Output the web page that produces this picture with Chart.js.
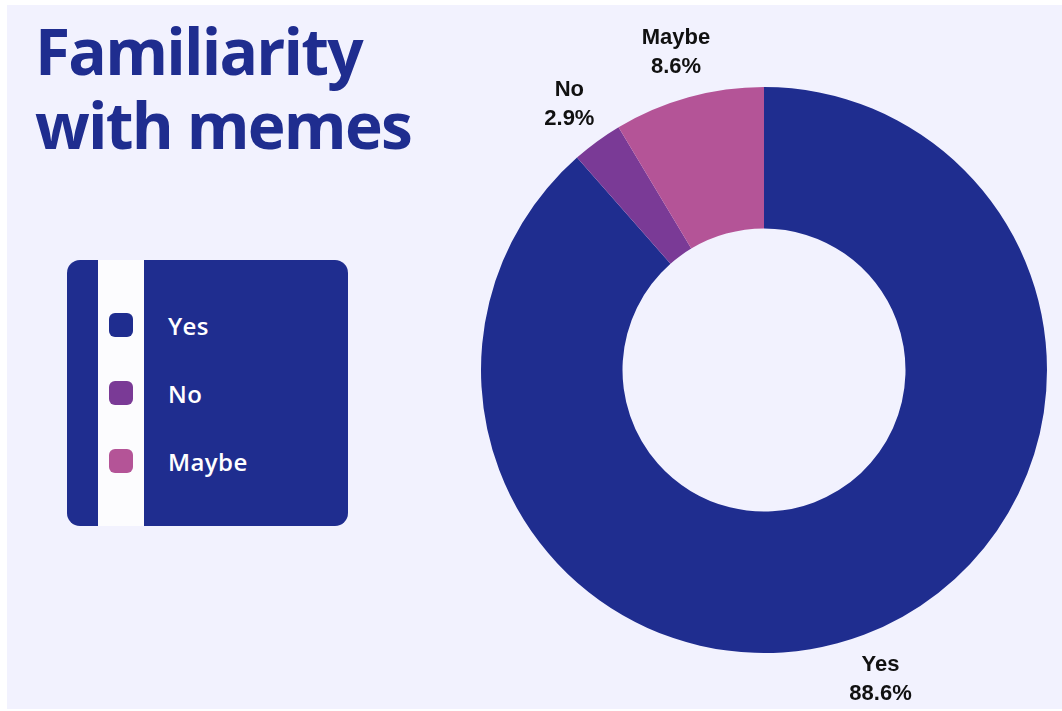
<!DOCTYPE html>
<html>
<head>
<meta charset="utf-8">
<title>Familiarity with memes</title>
<script src="https://cdn.jsdelivr.net/npm/chart.js@4"></script>
<style>
  html, body { margin: 0; padding: 0; background: #ffffff; }
  body { width: 1062px; height: 711px; position: relative; overflow: hidden; }
  .panel {
    position: absolute; left: 7px; top: 5px; width: 1055px; height: 704px;
    background: #f2f2fe;
  }
  #chartWrap { position: absolute; left: 0; top: 0; width: 1062px; height: 711px; }
  h1 {
    position: absolute; left: 35px; top: 14px; margin: 0;
    font-family: "Open Sans", sans-serif; font-weight: 700;
    font-size: 64px; line-height: 74px; letter-spacing: -1.8px;
    color: #1f2d8f;
  }
  .legend {
    position: absolute; left: 67px; top: 260px; width: 281px; height: 266px;
    background: #1f2d8f; border-radius: 13px; overflow: hidden;
  }
  .legend .stripe {
    position: absolute; left: 31px; top: 0; width: 46px; height: 100%;
    background: #fcfcfe;
  }
  .legend .item {
    position: absolute; left: 42px; height: 24px;
    display: flex; align-items: center;
  }
  .legend .swatch { width: 24px; height: 24px; border-radius: 6px; }
  .legend .text {
    margin-left: 35px; color: #ffffff;
    font-family: "Open Sans", sans-serif; font-weight: 600; font-size: 24px;
    letter-spacing: 0.4px;
  }
</style>
</head>
<body>
<div class="panel"></div>
<div id="chartWrap"><canvas id="memesChart" width="1062" height="711"></canvas></div>
<h1>Familiarity<br>with memes</h1>
<div class="legend" id="legend"><div class="stripe"></div></div>

<script>
// Survey answers and their shares (percent)
const answers = ['Yes', 'No', 'Maybe'];
const shares = [88.6, 2.9, 8.6];
const sliceColors = ['#1f2d8f', '#7a3a96', '#b45497'];

// Build the side legend from the same arrays
function buildLegend() {
    const legend = document.getElementById('legend');
    const firstTop = 53;
    const gap = 68;
    answers.forEach((name, i) => {
        const item = document.createElement('div');
        item.className = 'item';
        item.style.top = (firstTop + i * gap) + 'px';
        item.innerHTML = `<div class="swatch" style="background:${sliceColors[i]}"></div><span class="text">${name}</span>`;
        legend.appendChild(item);
    });
}

// Name + percentage written outside each slice
const outsideLabels = {
    id: 'outsideLabels',
    afterDatasetsDraw(chart) {
        const ctx = chart.ctx;
        const meta = chart.getDatasetMeta(0);
        ctx.save();
        ctx.fillStyle = '#111111';
        ctx.font = 'bold 22px "Liberation Sans", Arial, sans-serif';
        ctx.textAlign = 'center';
        ctx.textBaseline = 'middle';
        meta.data.forEach((arc, i) => {
            const mid = (arc.startAngle + arc.endAngle) / 2;
            const r = arc.outerRadius + 47;
            const x = arc.x + Math.cos(mid) * r;
            const y = arc.y + Math.sin(mid) * r;
            ctx.fillText(answers[i], x, y - 14);
            ctx.fillText(shares[i].toFixed(1) + '%', x, y + 15);
        });
        ctx.restore();
    }
};

buildLegend();

const ctx = document.getElementById('memesChart').getContext('2d');
new Chart(ctx, {
    type: 'doughnut',
    data: {
        labels: answers,
        datasets: [{
            data: shares,
            backgroundColor: sliceColors,
            borderWidth: 0
        }]
    },
    options: {
        responsive: false,
        animation: false,
        cutout: '50%',
        layout: { padding: { left: 481, right: 15, top: 87, bottom: 58 } },
        plugins: {
            legend: { display: false },
            tooltip: { enabled: false }
        }
    },
    plugins: [outsideLabels]
});
</script>
</body>
</html>
